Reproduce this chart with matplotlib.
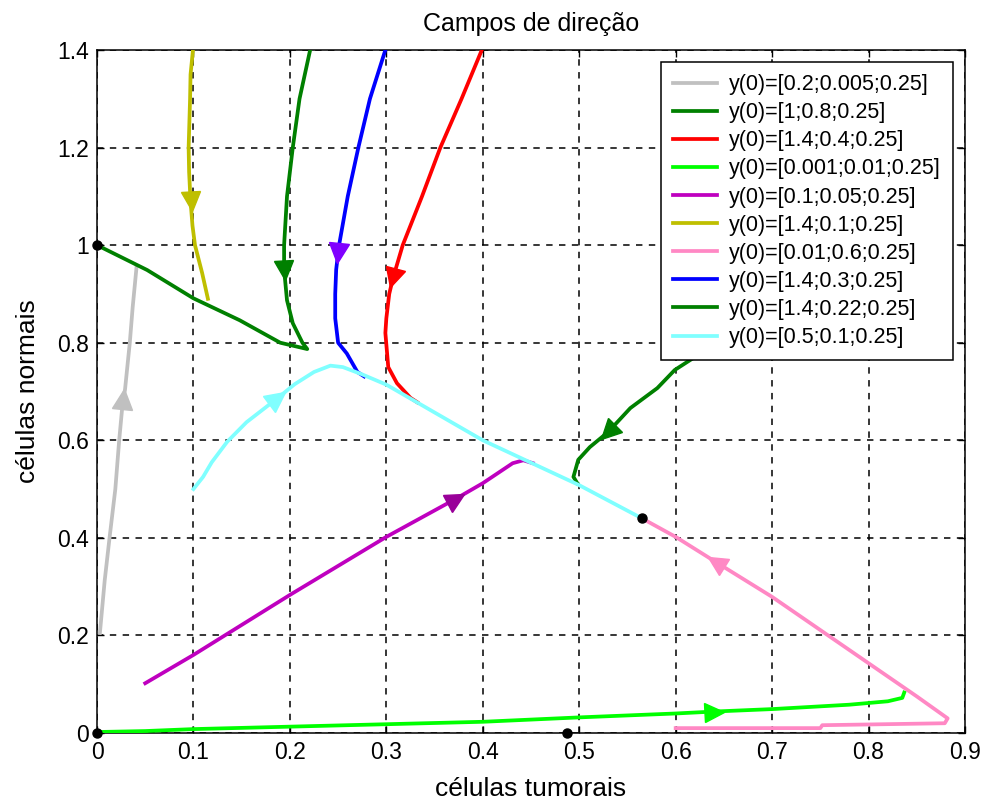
import numpy as np
import matplotlib
matplotlib.use('Agg')
import matplotlib.pyplot as plt
from matplotlib.markers import MarkerStyle
from matplotlib.transforms import Affine2D

plt.rcParams['font.family'] = ['Liberation Sans', 'DejaVu Sans']

# trajectories in the (tumor cells, normal cells) plane
labels = ['y(0)=[0.2;0.005;0.25]', 'y(0)=[1;0.8;0.25]', 'y(0)=[1.4;0.4;0.25]',
          'y(0)=[0.001;0.01;0.25]', 'y(0)=[0.1;0.05;0.25]', 'y(0)=[1.4;0.1;0.25]',
          'y(0)=[0.01;0.6;0.25]', 'y(0)=[1.4;0.3;0.25]', 'y(0)=[1.4;0.22;0.25]',
          'y(0)=[0.5;0.1;0.25]']

gray_x = [0.003, 0.008, 0.013, 0.019, 0.023, 0.027, 0.029, 0.034, 0.037, 0.041]
gray_y = [0.205, 0.313, 0.40, 0.50, 0.60, 0.685, 0.703, 0.80, 0.873, 0.955]

green1_x = [0.80, 0.70, 0.628, 0.599, 0.581, 0.553, 0.53, 0.511, 0.499, 0.494, 0.498]
green1_y = [1.00, 0.87, 0.781, 0.744, 0.707, 0.666, 0.617, 0.586, 0.56, 0.525, 0.512]

red_x = [0.399, 0.378, 0.356, 0.337, 0.317, 0.307, 0.303, 0.300, 0.299, 0.302, 0.311, 0.325, 0.332]
red_y = [1.40, 1.30, 1.20, 1.10, 1.00, 0.933, 0.90, 0.85, 0.82, 0.75, 0.717, 0.687, 0.678]

lime_x = [0.0, 0.05, 0.10, 0.20, 0.30, 0.40, 0.50, 0.60, 0.64, 0.70, 0.78, 0.82, 0.835, 0.837]
lime_y = [0.002, 0.004, 0.008, 0.013, 0.018, 0.023, 0.032, 0.040, 0.044, 0.049, 0.058, 0.065, 0.072, 0.083]

mag_x = [0.05, 0.10, 0.20, 0.30, 0.372, 0.40, 0.431, 0.442, 0.452]
mag_y = [0.102, 0.16, 0.283, 0.402, 0.48, 0.512, 0.553, 0.559, 0.553]

yel_x = [0.0995, 0.097, 0.0965, 0.095, 0.0955, 0.097, 0.099, 0.1016, 0.109, 0.115]
yel_y = [1.40, 1.35, 1.30, 1.20, 1.15, 1.09, 1.04, 1.00, 0.943, 0.89]

pink_x = [0.60, 0.75, 0.752, 0.879, 0.882, 0.85, 0.80, 0.70, 0.642, 0.60, 0.565]
pink_y = [0.01, 0.01, 0.016, 0.02, 0.03, 0.075, 0.143, 0.279, 0.35, 0.402, 0.44]

blue_x = [0.299, 0.283, 0.271, 0.260, 0.251, 0.250, 0.248, 0.247, 0.247, 0.250, 0.259, 0.270, 0.277]
blue_y = [1.40, 1.30, 1.20, 1.10, 1.00, 0.984, 0.95, 0.90, 0.85, 0.80, 0.778, 0.74, 0.731]

green2_x = [0.221, 0.210, 0.203, 0.197, 0.194, 0.194, 0.197, 0.203, 0.213, 0.218,
            0.19, 0.148, 0.10, 0.052, 0.0]
green2_y = [1.40, 1.30, 1.20, 1.10, 1.00, 0.95, 0.887, 0.84, 0.80, 0.787,
            0.80, 0.846, 0.891, 0.949, 1.0]

cyan_x = [0.10, 0.11, 0.119, 0.135, 0.155, 0.187, 0.205, 0.225, 0.242, 0.255, 0.275, 0.30, 0.40, 0.50, 0.565]
cyan_y = [0.50, 0.525, 0.555, 0.597, 0.637, 0.686, 0.715, 0.74, 0.753, 0.75, 0.735, 0.714, 0.60, 0.508, 0.44]

# equilibrium points
eq_x = [0.0, 0.0, 0.487, 0.565]
eq_y = [0.0, 1.0, 0.0, 0.44]

series = [(gray_x, gray_y), (green1_x, green1_y), (red_x, red_y), (lime_x, lime_y),
          (mag_x, mag_y), (yel_x, yel_y), (pink_x, pink_y), (blue_x, blue_y),
          (green2_x, green2_y), (cyan_x, cyan_y)]
colors = ['#c0c0c0', '#008000', '#ff0000', '#00ff00', '#bf00bf', '#bfbf00',
          '#ff88c4', '#0000ff', '#008000', '#80ffff']
arrow_colors = ['#c0c0c0', '#008000', '#ff0000', '#00ff00', '#990099', '#bfbf00',
                '#ff88c4', '#8000ff', '#008000', '#80ffff']
# index of the point on each path where the direction arrow sits
arrow_idx = [5, 6, 5, 8, 4, 5, 8, 5, 5, 5]

fig = plt.figure(figsize=(9.88, 8.05), dpi=100)
ax = fig.add_axes([97 / 988, 72 / 805, 868 / 988, 683 / 805])
ax.set_xlim(0, 0.9)
ax.set_ylim(0, 1.4)

for (xs, ys), c, lab in zip(series, colors, labels):
    ax.plot(xs, ys, color=c, lw=2.7, label=lab, zorder=3, solid_joinstyle='round')

# direction arrows, rotated along the local tangent in screen space
for (xs, ys), c, i in zip(series, arrow_colors, arrow_idx):
    p0 = ax.transData.transform((xs[i - 1], ys[i - 1]))
    p1 = ax.transData.transform((xs[i + 1], ys[i + 1]))
    ang = np.degrees(np.arctan2(p1[1] - p0[1], p1[0] - p0[0]))
    m = MarkerStyle('>', transform=Affine2D().rotate_deg(ang))
    ax.plot(xs[i], ys[i], marker=m, ms=14, color=c, mec=c, ls='none', zorder=4)

ax.plot(eq_x, eq_y, 'o', color='k', ms=6.5, zorder=5, clip_on=False)

ax.set_xticks(np.arange(0, 0.91, 0.1))
ax.set_xticklabels(['0', '0.1', '0.2', '0.3', '0.4', '0.5', '0.6', '0.7', '0.8', '0.9'])
ax.set_yticks(np.arange(0, 1.41, 0.2))
ax.set_yticklabels(['0', '0.2', '0.4', '0.6', '0.8', '1', '1.2', '1.4'])
ax.tick_params(direction='in', top=True, right=True, length=5, width=1,
               labelsize=16.5, pad=6)
ax.grid(True, color='k', lw=1.1, linestyle=(0, (4.2, 4.2)))
for s in ax.spines.values():
    s.set_linewidth(1.1)

ax.set_title('Campos de direção', fontsize=18, pad=14)
ax.set_xlabel('células tumorais', fontsize=19, labelpad=9)
ax.set_ylabel('células normais', fontsize=19, labelpad=12)

leg = ax.legend(loc='upper right', bbox_to_anchor=(0.986, 0.982), borderaxespad=0,
                fontsize=15.5, handlelength=2.05, handletextpad=0.55, labelspacing=0.33,
                borderpad=0.55, fancybox=False, framealpha=1, edgecolor='k')
leg.get_frame().set_linewidth(1.1)
leg.set_zorder(10)

fig.savefig('out.png', dpi=100, facecolor='white')
